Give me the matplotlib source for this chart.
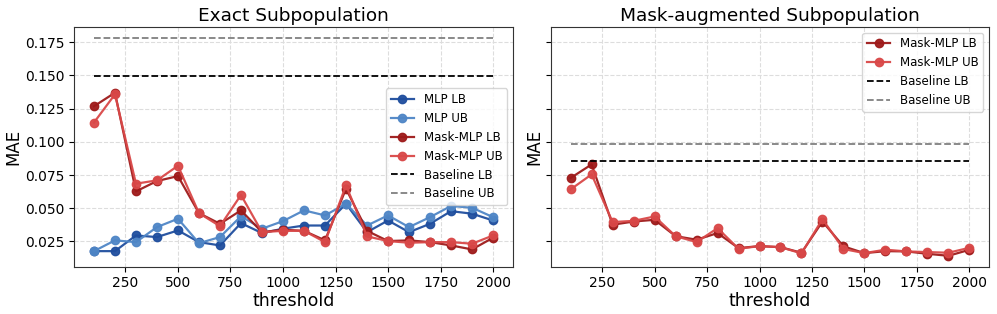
import matplotlib
matplotlib.use("Agg")
import matplotlib.pyplot as plt

thresholds = [100, 200, 300, 400, 500, 600, 700, 800, 900, 1000,
              1100, 1200, 1300, 1400, 1500, 1600, 1700, 1800, 1900, 2000]

# Exact subpopulation
mlp_lb = [0.0177, 0.0177, 0.0295, 0.0283, 0.0333, 0.0245, 0.0220, 0.0388, 0.0313, 0.0346,
          0.0370, 0.0370, 0.0534, 0.0320, 0.0408, 0.0320, 0.0383, 0.0478, 0.0459, 0.0408]
mlp_ub = [0.0177, 0.0258, 0.0245, 0.0358, 0.0421, 0.0237, 0.0283, 0.0440, 0.0346, 0.0403,
          0.0484, 0.0446, 0.0534, 0.0370, 0.0446, 0.0358, 0.0433, 0.0517, 0.0504, 0.0433]
mask_lb_exact = [0.1268, 0.1370, 0.0627, 0.0705, 0.0742, 0.0463, 0.0383, 0.0484, 0.0320, 0.0338,
                 0.0330, 0.0258, 0.0647, 0.0330, 0.0253, 0.0258, 0.0245, 0.0220, 0.0190, 0.0278]
mask_ub_exact = [0.1145, 0.1358, 0.0685, 0.0710, 0.0820, 0.0463, 0.0365, 0.0600, 0.0320, 0.0330,
                 0.0330, 0.0245, 0.0672, 0.0288, 0.0253, 0.0240, 0.0245, 0.0245, 0.0233, 0.0295]
baseline_lb_exact = 0.1495
baseline_ub_exact = 0.1785

# Mask-augmented subpopulation
mask_lb_aug = [0.0728, 0.0830, 0.0376, 0.0400, 0.0413, 0.0290, 0.0263, 0.0313, 0.0200, 0.0215,
               0.0207, 0.0165, 0.0400, 0.0213, 0.0162, 0.0177, 0.0175, 0.0157, 0.0142, 0.0187]
mask_ub_aug = [0.0642, 0.0755, 0.0396, 0.0405, 0.0438, 0.0290, 0.0245, 0.0350, 0.0195, 0.0215,
               0.0207, 0.0160, 0.0418, 0.0193, 0.0162, 0.0188, 0.0175, 0.0170, 0.0165, 0.0202]
baseline_lb_aug = 0.0855
baseline_ub_aug = 0.0983

C_MLP_LB = "#1f4e9e"
C_MLP_UB = "#4f86c6"
C_MASK_LB = "#9e1a1a"
C_MASK_UB = "#d94848"

fig = plt.figure(figsize=(9.97, 3.14), dpi=100)
H = 314.0
W = 997.0
ax1 = fig.add_axes([74 / W, (H - 266.7) / H, 439 / W, 240 / H])
ax2 = fig.add_axes([550.7 / W, (H - 266.7) / H, 438.6 / W, 240 / H], sharey=ax1)

line_kw = dict(marker="o", markersize=6, linewidth=1.6, alpha=0.95)

ax1.plot(thresholds, mlp_lb, color=C_MLP_LB, label="MLP LB", **line_kw)
ax1.plot(thresholds, mlp_ub, color=C_MLP_UB, label="MLP UB", **line_kw)
ax1.plot(thresholds, mask_lb_exact, color=C_MASK_LB, label="Mask-MLP LB", **line_kw)
ax1.plot(thresholds, mask_ub_exact, color=C_MASK_UB, label="Mask-MLP UB", **line_kw)
ax1.plot(thresholds, [baseline_lb_exact] * len(thresholds), "--", color="black",
         linewidth=1.3, label="Baseline LB")
ax1.plot(thresholds, [baseline_ub_exact] * len(thresholds), "--", color="gray",
         linewidth=1.3, label="Baseline UB")

ax2.plot(thresholds, mask_lb_aug, color=C_MASK_LB, label="Mask-MLP LB", **line_kw)
ax2.plot(thresholds, mask_ub_aug, color=C_MASK_UB, label="Mask-MLP UB", **line_kw)
ax2.plot(thresholds, [baseline_lb_aug] * len(thresholds), "--", color="black",
         linewidth=1.3, label="Baseline LB")
ax2.plot(thresholds, [baseline_ub_aug] * len(thresholds), "--", color="gray",
         linewidth=1.3, label="Baseline UB")

for ax, title in [(ax1, "Exact Subpopulation"), (ax2, "Mask-augmented Subpopulation")]:
    ax.set_title(title, fontsize=13.3, pad=4)
    ax.set_xlabel("threshold", fontsize=12.5, labelpad=1)
    ax.set_ylabel("MAE", fontsize=12, labelpad=2)
    ax.grid(True, linestyle="--", color="#dddddd", linewidth=0.8)
    ax.set_axisbelow(True)
    ax.set_xticks([250, 500, 750, 1000, 1250, 1500, 1750, 2000])
    ax.tick_params(labelsize=10)
    for s in ax.spines.values():
        s.set_color("#333333")

ax2.tick_params(labelleft=False)
ax1.legend(loc="center right", fontsize=8.5)
ax2.legend(loc="upper right", fontsize=8.5)

fig.savefig("out.png", dpi=100)
